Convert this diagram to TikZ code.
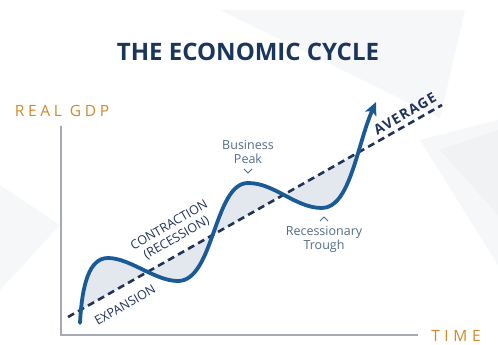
\documentclass[tikz,border=0pt]{standalone}
\usepackage{fontspec}
\setmainfont{Open Sans}
\usetikzlibrary{arrows.meta}
\definecolor{navy}{HTML}{1B365D}
\definecolor{dashnavy}{HTML}{22335A}
\definecolor{curveblue}{HTML}{1A5A96}
\definecolor{orangeT}{HTML}{D4882C}
\definecolor{axisgrey}{HTML}{A5AAB2}
\definecolor{labelgrey}{HTML}{566C88}
\definecolor{lobefill}{HTML}{E3E8EF}
\definecolor{bgA}{HTML}{F6F7F8}
\definecolor{bgB}{HTML}{F1F2F4}
\tikzset{
  capslabel/.style={text=dashnavy, font=\fontsize{12.5}{14.5}\selectfont, inner sep=0pt, rotate=30, align=center},
  notelabel/.style={text=labelgrey, font=\fontsize{12.5}{14}\selectfont, inner sep=0pt, align=center},
  axislabel/.style={text=orangeT, inner sep=0pt},
  chevron/.style={labelgrey, line width=0.8pt},
}
\begin{document}
\begin{tikzpicture}[x=1pt,y=-1pt]
\useasboundingbox (0,0) rectangle (498,345);
\fill[white] (0,0) rectangle (498,345);
% faint background facets
\fill[bgA] (220,10) -- (465,10) -- (440,118) -- cycle;
\fill[bgA] (420,140) -- (498,120) -- (498,265) -- cycle;
\fill[bgB] (440,150) -- (498,130) -- (498,215) -- cycle;
\fill[bgA] (0,185) -- (60,225) -- (0,290) -- cycle;

% key points
\coordinate (c0) at (80,323);
\coordinate (pk1) at (108,258);
\coordinate (tr1) at (178,281);
\coordinate (pk2) at (248,183);
\coordinate (tr2) at (322,208);
\coordinate (tip) at (376,102);
\coordinate (avgS) at (68,317);
\coordinate (avgE) at (442,105);
\coordinate (avgL) at (80,310.2);
\coordinate (yTop) at (61,126);
\coordinate (origin) at (61,335);
\coordinate (xEnd) at (418,335);

% shaded area between curve and average line
\begin{scope}
\clip (0,0) rectangle (358,345);
\fill[lobefill] (c0) .. controls (82,285) and (89,258) .. (pk1)
  .. controls (130,258) and (155,281) .. (tr1)
  .. controls (214,281) and (214,183) .. (pk2)
  .. controls (275,183) and (295,208) .. (tr2)
  .. controls (350,208) and (357,145) .. (tip)
  -- (avgE) -- (avgL) -- cycle;
\end{scope}

% axes
\draw[axisgrey, line width=1.4pt] (yTop) -- (origin) -- (xEnd);

% average line
\draw[dashnavy, line width=2.6pt, dash pattern=on 7pt off 4.5pt] (avgS) -- (avgE);

% cycle curve
\draw[curveblue, line width=3.8pt, line cap=round, -{Stealth[length=13pt,width=12pt,inset=3pt]}]
  (c0) .. controls (82,285) and (89,258) .. (pk1)
  .. controls (130,258) and (155,281) .. (tr1)
  .. controls (214,281) and (214,183) .. (pk2)
  .. controls (275,183) and (295,208) .. (tr2)
  .. controls (350,208) and (357,145) .. (tip);

% texts
\node[text=navy, font=\fontsize{24}{26}\selectfont\bfseries, inner sep=0pt] (title) at (248,52) {THE ECONOMIC CYCLE};
\node[axislabel, font=\fontsize{15.5}{17}\selectfont\addfontfeature{LetterSpace=24}] (gdp) at (62,111) {REAL GDP};
\node[axislabel, font=\fontsize{15.5}{17}\selectfont\addfontfeature{LetterSpace=30}] (time) at (456,336) {TIME};

\node[capslabel] (expansion) at (125,305) {EXPANSION};
\node[capslabel] (contraction) at (173,232) {CONTRACTION\\(RECESSION)};
\node[capslabel, font=\fontsize{14}{16}\selectfont\bfseries\addfontfeature{LetterSpace=8}] (average) at (405,114) {AVERAGE};

\node[notelabel] (peak) at (248,152) {Business\\Peak};
\node[notelabel] (trough) at (324,239) {Recessionary\\Trough};
\draw[chevron] (244,169) -- (248,173) -- (252,169);
\draw[chevron] (320,221) -- (324,217) -- (328,221);
\end{tikzpicture}
\end{document}
